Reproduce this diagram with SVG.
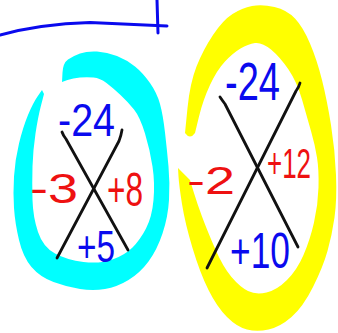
<svg xmlns="http://www.w3.org/2000/svg" width="338" height="333" viewBox="0 0 338 333">
<style>
.pen{fill:none;stroke-linecap:round;stroke-linejoin:round}
.blk{stroke:#111;stroke-width:2.8}
.blue{fill:#0a0aee}
.red{fill:#ee1111}
text{font-family:"Liberation Sans","DejaVu Sans",sans-serif}
</style>
<rect width="338" height="333" fill="#fff"/>
<g id="top-line" class="pen" stroke="#0a0aee" stroke-width="3">
<path d="M0,35 Q40,24 90,22.5 L167,26"/>
<path d="M157,0 L158,33"/>
</g>
<path id="cyan-ring" fill="#00ffff" d="M62,82 L62.5,72.5 Q63,63 68,59.5 Q73,56 80,53.5 Q87,51 97,51.5 Q107,52 117,56 Q127,60 135,66.5 Q143,73 150,83 Q157,93 160,104 Q163,115 165,132.5 Q167,150 168.5,166.5 Q170,183 169,200 Q168,217 162.5,233.5 Q157,250 148.5,261.5 Q140,273 128.5,280 Q117,287 105,289 Q93,291 80,289 Q67,287 53.5,282 Q40,277 31.5,267 Q23,257 19,240 Q15,223 14,208 Q13,193 14,176.5 Q15,160 19,143.5 Q23,127 28,115 Q33,103 37.5,96.5 L42,90 L44,94 L41,105.5 Q38,117 35.5,133.5 Q33,150 32.5,166.5 Q32,183 32.5,200 Q33,217 38,232 Q43,247 55,253.5 Q67,260 83.5,262 Q100,264 112.5,259.5 Q125,255 132.5,247.5 Q140,240 146,228.5 Q152,217 153.5,200 Q155,183 152.5,166.5 Q150,150 145,133.5 Q140,117 134,109.5 Q128,102 120.5,95 Q113,88 106.5,83 Q100,78 93.5,77.5 Q87,77 80,77.5 Q73,78 67.5,80 Z"/>
<path id="yellow-ring" fill="#ffff00" d="M185,133 L187.5,108 Q190,83 196.5,66.5 Q203,50 213,35 Q223,20 232.5,14 Q242,8 252,6 Q262,4 274.5,7 Q287,10 295,18.5 Q303,27 310,43.5 Q317,60 322,80 Q327,100 331,125 Q335,150 336,175 Q337,200 334.5,217.5 Q332,235 327.5,251 Q323,267 313,287 Q303,307 291.5,317 Q280,327 268.5,329.5 Q257,332 247,329.5 Q237,327 227,317 Q217,307 208.5,290 Q200,273 192.5,248 Q185,223 182,204 Q179,185 178.5,176.5 L178,168 L190,180 L193.5,191.5 Q197,203 202,216.5 Q207,230 215,248.5 Q223,267 231.5,277 Q240,287 248,291 Q256,295 266.5,292.5 Q277,290 287,280 Q297,270 303.5,255 Q310,240 314,222.5 Q318,205 318.5,187.5 Q319,170 317,157.5 Q315,145 311,131 Q307,117 302,99.5 Q297,82 288.5,69.5 Q280,57 271,49.5 Q262,42 255,43 Q248,44 240.5,48.5 Q233,53 225,61.5 Q217,70 210,85 Q203,100 199,116.5 L195,133 Q190,140 185,133 Z"/>
<g id="left-x" class="pen blk">
<path d="M62,132 Q63,135 66,139 L128,250"/>
<path d="M122,130 Q121,136 119,141 L57,258"/>
</g>
<g id="right-x" class="pen blk">
<path d="M220,97 Q222,100 225,104 L298,247"/>
<path d="M300,83 Q299,87 296,91 L207,268"/>
</g>
<g id="left-labels">
<text class="blue" x="58" y="136" font-size="46" textLength="57" lengthAdjust="spacingAndGlyphs">-24</text>
<text class="red" x="30" y="203" font-size="42" textLength="48" lengthAdjust="spacingAndGlyphs">-3</text>
<text class="red" x="107" y="206" font-size="48" textLength="36" lengthAdjust="spacingAndGlyphs">+8</text>
<text class="blue" x="77" y="262" font-size="44" textLength="38" lengthAdjust="spacingAndGlyphs">+5</text>
</g>
<g id="right-labels">
<text class="blue" x="225" y="100" font-size="54" textLength="55" lengthAdjust="spacingAndGlyphs">-24</text>
<text class="red" x="187" y="194" font-size="38" textLength="48" lengthAdjust="spacingAndGlyphs">-2</text>
<text class="red" x="267" y="178" font-size="42" textLength="44" lengthAdjust="spacingAndGlyphs">+12</text>
<text class="blue" x="230" y="268" font-size="50" textLength="60" lengthAdjust="spacingAndGlyphs">+10</text>
</g>
</svg>
